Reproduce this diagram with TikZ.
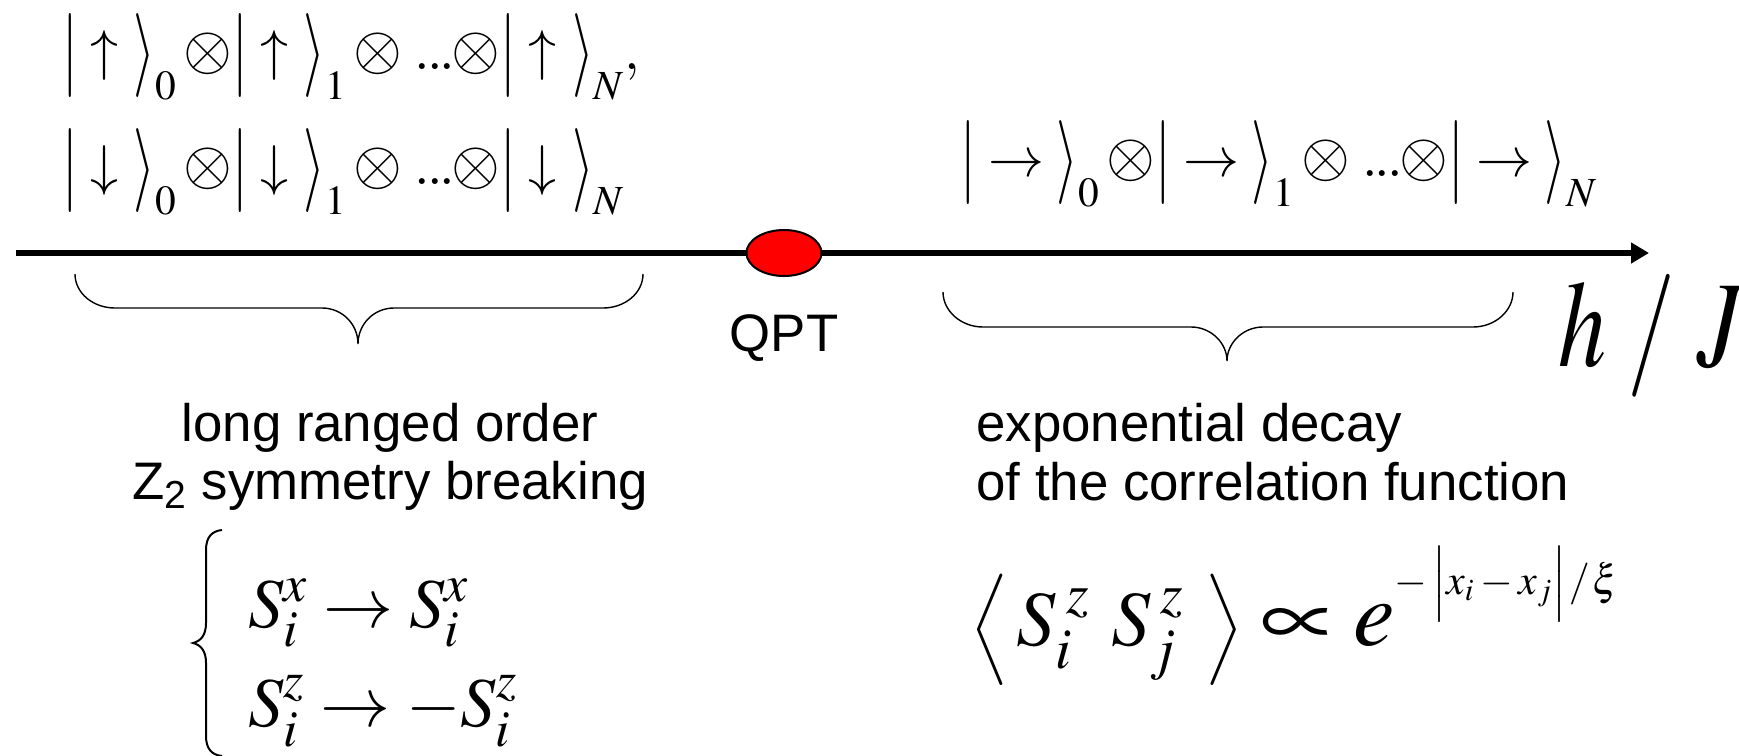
\documentclass[tikz,border=0pt]{standalone}
\usepackage{mathptmx}
\usepackage{graphicx}
\usepackage[no-math]{fontspec}
\setmainfont{Liberation Serif}
\setsansfont{Liberation Sans}
\usetikzlibrary{arrows.meta,shapes.geometric}
% tall bar and angle bracket, centred on the math axis
\newcommand{\tallbar}{\mathord{\raisebox{-0.125em}{\scalebox{1}[1.5]{$|$}}}}
\newcommand{\tallang}{\mathord{\raisebox{-0.125em}{\scalebox{1}[1.5]{$\rangle$}}}}
\newcommand{\kt}[3]{{\tallbar#1\mkern#3mu\tallang}_{#2}}
\newcommand{\ot}{\mathord{\mkern2mu\scalebox{1.12}{$\otimes$}}}
\newcommand{\dts}{\mkern4mu.\mkern-1mu.\mkern-1mu.\mkern-3mu}
\tikzset{
  sanstxt/.style={font=\sffamily\fontsize{26.4}{31}\selectfont, inner sep=0pt},
  ketrow/.style={font=\fontsize{28}{30}\selectfont, inner sep=0pt},
  eqnl/.style={font=\fontsize{35}{42}\selectfont, inner sep=0pt},
  eqnr/.style={font=\fontsize{39}{46}\selectfont, inner sep=0pt},
  bigvar/.style={font=\fontsize{48}{56}\selectfont, inner sep=0pt},
  bracepath/.style={line width=0.7pt},
  symbrace/.style={line width=1pt},
  axisline/.style={line width=3pt, -{Triangle[length=9pt,width=10pt]}},
  qptdot/.style={ellipse, draw=black, line width=1pt, fill=red,
                 minimum width=37.5pt, minimum height=23pt, inner sep=0pt},
}
\begin{document}
\begin{tikzpicture}[x=0.5pt,y=-0.5pt]
\useasboundingbox (0,0) rectangle (1739,755);
\fill[white] (0,0) rectangle (1739,755);
% kets
\node[ketrow, anchor=base west] (kup) at (62,69)
  {$\kt{\uparrow}{0}{1}\ot\kt{\uparrow}{1}{1}\ot\dts\ot\kt{\uparrow}{N}{1},$};
\node[ketrow, anchor=base west] (kdown) at (62,184)
  {$\kt{\downarrow}{0}{1}\ot\kt{\downarrow}{1}{1}\ot\dts\ot\kt{\downarrow}{N}{1}$};
\node[ketrow, anchor=base west] (kright) at (960,176)
  {$\kt{\rightarrow}{0}{0}\ot\kt{\rightarrow}{1}{0}\ot\dts\ot\kt{\rightarrow}{N}{0}$};
% axis
\coordinate (ax0) at (16,253);
\coordinate (ax1) at (1649,253);
\draw[axisline] (ax0) -- (ax1);
\node[qptdot] (qpt) at (784,253) {};
\node[sanstxt, anchor=base] (qptl) at (784,351) {QPT};
\node[bigvar, anchor=base west] (hj) at (1558,366) {\scalebox{1}[1.28]{$h\;/\;J$}};
% braces
\draw[bracepath] (75,274) .. controls (75,293) and (93,308) .. (115,308)
  -- (322,308) .. controls (342,308) and (358,324) .. (358,344)
  .. controls (358,324) and (374,308) .. (394,308)
  -- (603,308) .. controls (625,308) and (643,293) .. (643,274);
\draw[bracepath] (943,292) .. controls (943,311) and (961,327) .. (983,327)
  -- (1191,327) .. controls (1211,327) and (1227,343) .. (1227,361)
  .. controls (1227,343) and (1243,327) .. (1263,327)
  -- (1473,327) .. controls (1495,327) and (1513,311) .. (1513,292);
% left texts
\node[sanstxt, anchor=base] (lro) at (390,441) {long ranged order};
\node[sanstxt, anchor=base] (z2) at (390,499) {Z\textsubscript{2} symmetry breaking};
\draw[symbrace] (222,530) .. controls (212,531) and (206,537) .. (206,550)
  -- (206,623) .. controls (206,635) and (201,641) .. (193,643)
  .. controls (201,645) and (206,651) .. (206,663)
  -- (206,736) .. controls (206,749) and (212,755) .. (222,756);
\node[eqnl, anchor=base west] (eqa) at (248,627) {$S_i^x\rightarrow S_i^x$};
\node[eqnl, anchor=base west] (eqb) at (248,726) {$S_i^z\rightarrow -S_i^z$};
% right texts
\node[sanstxt, anchor=base west] (ed) at (976,441) {exponential decay};
\node[sanstxt, anchor=base west] (cf) at (976,500) {of the correlation function};
\node[eqnr, anchor=base west] (corr) at (970,645)
  {$\mbox{\fontsize{31}{36}\selectfont$\Big\langle$}\mkern2mu S_i^{\mkern3mu z}\mkern5mu S_j^{\mkern3mu z}\mkern5mu\mbox{\fontsize{31}{36}\selectfont$\Big\rangle$}\mathrel{\scalebox{1.35}[1.15]{$\propto$}}
   \mathord{\scalebox{1.2}{$e$}}^{\raisebox{11pt}{\fontsize{21}{24}\selectfont$-\left|\vrule height 24pt depth 9pt width 0pt x_i-x_j\right|\mkern-1mu/\mkern1mu\xi$}}$};
\end{tikzpicture}
\end{document}
